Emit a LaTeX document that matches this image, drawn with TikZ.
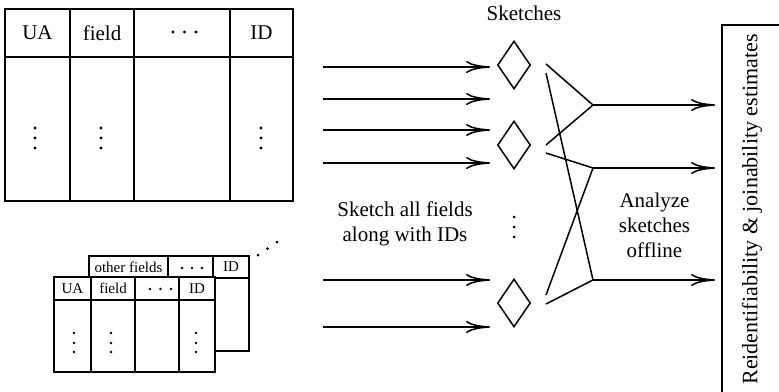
\documentclass[tikz,border=0pt]{standalone}
\usepackage{fontspec}
\setmainfont{Liberation Serif}
\usetikzlibrary{shapes.geometric,arrows.meta}
\begin{document}
\begin{tikzpicture}[x=1pt,y=-1pt,
  tbl/.style={line width=1.8pt},
  lbl/.style={font=\fontsize{21}{25}\selectfont, inner sep=0pt, align=center},
  small/.style={font=\fontsize{15}{18}\selectfont, inner sep=0pt},
  sk/.style={diamond, draw, line width=1.5pt, minimum width=33pt, minimum height=48pt, inner sep=0pt},
  arr/.style={line width=1.5pt, -{Computer Modern Rightarrow[length=24pt,width=12pt]}},
  ln/.style={line width=1.5pt},
  dotc/.style={fill=black, draw=none}]
\useasboundingbox (0,0) rectangle (779,391);
\begin{scope}
\clip (0,0) rectangle (779,391);

% main table
\draw[tbl] (5,9) rectangle (293,201);
\draw[tbl] (5,57) -- (293,57);
\draw[tbl] (70,9) -- (70,201);
\draw[tbl] (134,9) -- (134,201);
\draw[tbl] (230,9) -- (230,201);
\node[lbl] (tua) at (37.5,33) {UA};
\node[lbl] (tfield) at (102,33) {field};
\node[lbl] (tid) at (261.5,33) {ID};
% dots of the main table
\foreach \x in {173,184.5,196} \fill[dotc] (\x,32) circle (1.6);
\foreach \x in {35,101,261} \foreach \y in {128,138,148} \fill[dotc] (\x,\y) circle (1.6);

% back small table
\draw[tbl, fill=white] (89,256) rectangle (249,351);
\draw[tbl] (89,278) -- (249,278);
\draw[tbl] (168,256) -- (168,278);
\draw[tbl] (213,256) -- (213,351);
\node[small] (bof) at (128.5,267) {other fields};
\node[small] (bid) at (231,267) {ID};
\foreach \x in {182,192,202} \fill[dotc] (\x,268) circle (1.3);

% front small table
\draw[tbl, fill=white] (54,277) rectangle (215,372);
\draw[tbl] (54,300) -- (215,300);
\draw[tbl] (91,277) -- (91,372);
\draw[tbl] (135,277) -- (135,372);
\draw[tbl] (179,277) -- (179,372);
\node[small] (fua) at (72.5,288.5) {UA};
\node[small] (ffield) at (113,288.5) {field};
\node[small] (fid) at (197,288.5) {ID};
\foreach \x in {150,160.5,171} \fill[dotc] (\x,289) circle (1.3);
\foreach \x in {74,111,196} \foreach \y in {333,343,352} \fill[dotc] (\x,\y) circle (1.3);

% diagonal dots
\fill[dotc] (258,255) circle (1.5);
\fill[dotc] (267.5,248.5) circle (1.5);
\fill[dotc] (277,242) circle (1.5);

% input arrows
\foreach \n/\y in {1/67,2/99,3/130,4/163,5/280,6/327}{
  \coordinate (s\n) at (323,\y);
  \coordinate (e\n) at (490,\y);
  \draw[arr] (s\n) -- (e\n);
}
\node[lbl] (sketchall) at (405,223.5) {Sketch all fields\\along with IDs};

% sketches
\node[sk] (d1) at (514,65) {};
\node[sk] (d2) at (514,145) {};
\node[sk] (d3) at (514,303) {};
\foreach \y in {217,227,237} \fill[dotc] (514,\y) circle (1.5);
\node[lbl] (sklbl) at (524,13) {Sketches};

% crossing lines
\coordinate (c1) at (546,64);
\coordinate (c2) at (546,73);
\coordinate (c3) at (546,145);
\coordinate (c4) at (546,153);
\coordinate (c5) at (546,295);
\coordinate (c6) at (546,304);
\coordinate (j1) at (593,105);
\coordinate (j2) at (593,168);
\coordinate (j3) at (593,280);
\draw[ln] (c1) -- (j1);
\draw[ln] (c2) -- (j3);
\draw[ln] (c3) -- (j1);
\draw[ln] (c4) -- (j2);
\draw[ln] (c5) -- (j2);
\draw[ln] (c6) -- (j3);

% output arrows
\coordinate (o1) at (715,105);
\coordinate (o2) at (715,168);
\coordinate (o3) at (715,280);
\draw[arr] (j1) -- (o1);
\draw[arr] (j2) -- (o2);
\draw[arr] (j3) -- (o3);
\node[lbl] (analyze) at (654.5,225) {Analyze\\sketches\\offline};

% result box
\draw[tbl] (722,420) -- (722,25) -- (800,25);
\node[lbl, font=\fontsize{22}{26}\selectfont, rotate=90] (res) at (752,209.5) {Reidentifiability \& joinability estimates};
\end{scope}
\end{tikzpicture}
\end{document}
